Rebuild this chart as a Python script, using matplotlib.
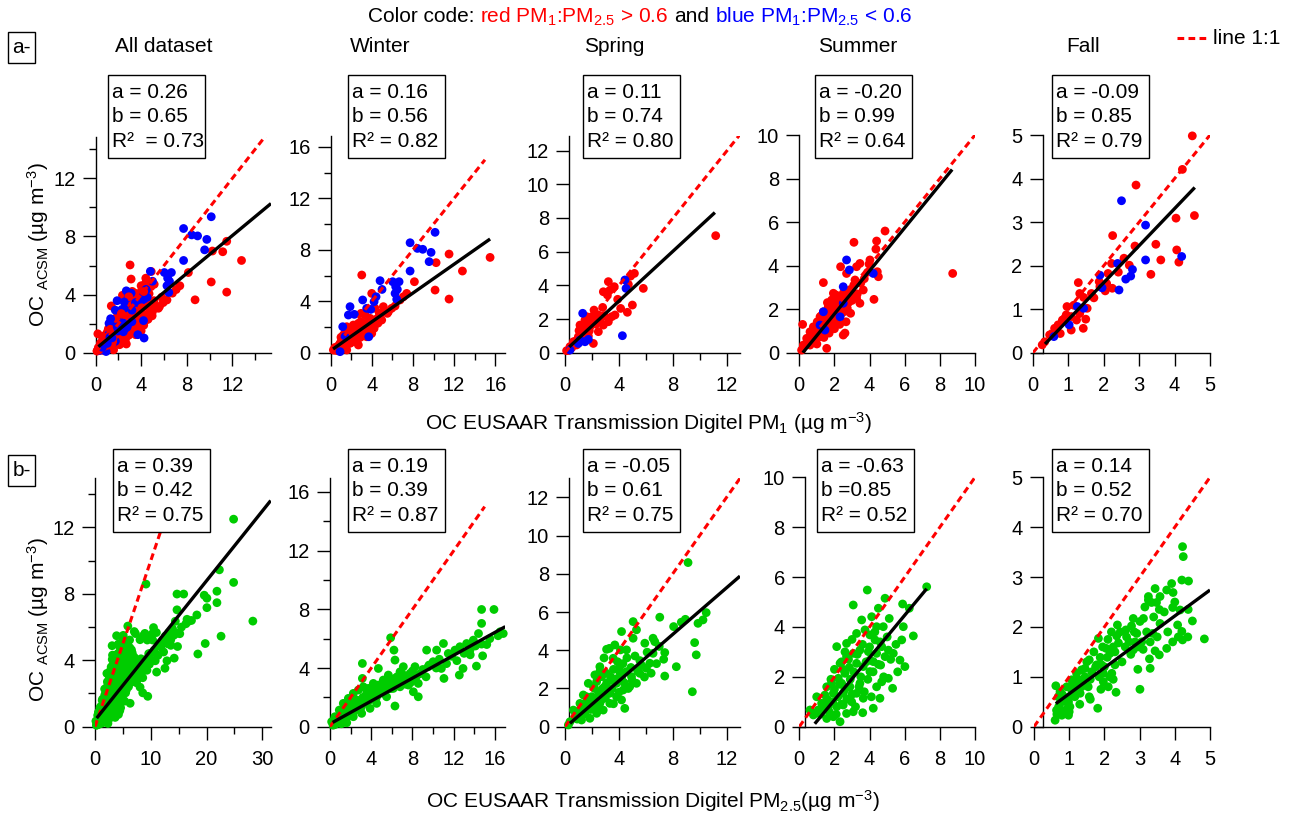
import numpy as np
import matplotlib
matplotlib.use('Agg')
import matplotlib.pyplot as plt
from matplotlib.patches import Rectangle
from matplotlib.lines import Line2D
from matplotlib.ticker import MultipleLocator

plt.rcParams['font.family'] = ['Liberation Sans', 'DejaVu Sans']
plt.rcParams['mathtext.fontset'] = 'custom'
plt.rcParams['mathtext.rm'] = 'Liberation Sans'
plt.rcParams['mathtext.it'] = 'Liberation Sans:italic'
plt.rcParams['mathtext.bf'] = 'Liberation Sans:bold'

# ---------------- DATA ----------------
titles = ['All dataset', 'Winter', 'Spring', 'Summer', 'Fall']

# row a: OC ACSM vs OC PM1 (red: PM1:PM2.5 > 0.6, blue: < 0.6)
winter_a_red = [(15.5,7.41),(12.81,6.35),(11.51,7.67),(10.25,7.0),(10.15,4.87),(11.51,4.17),(8.14,5.52),(7.39,4.61),
    (3.02,6.04),(3.99,4.61),(4.31,3.45),(5.12,3.58),(6.26,3.63),(5.93,3.45),(5.51,3.06),(4.73,3.06),(3.83,2.67),
    (3.34,2.28),(2.69,2.28),(2.2,2.15),(1.56,2.02),(1.23,1.37),(1.88,0.73),(2.69,0.6),(3.99,1.5),(3.5,1.24),
    (4.22,1.89),(3.18,1.63),(2.53,1.24),(0.58,0.34),(0.26,0.21),(0.42,0.41),(0.91,0.73),(1.56,0.6),(2.2,0.98),
    (2.85,1.37),(4.8,2.93),(5.28,3.19),(2.95,3.06),(3.34,2.93),(2.46,1.63),(1.95,1.5),(1.07,0.98),(0.81,0.6),
    (1.56,0.21),(0.65,0.16),(4.47,2.28),(4.96,2.54),(5.61,3.19),(6.74,4.1),(7.07,4.35),
    (0.4,0.2),(0.7,0.3),(0.8,0.45),(1.0,0.5),(1.2,0.7),(1.3,0.45),(1.4,0.85),(1.6,1.0),(1.7,0.75),(1.8,1.2),
    (2.0,0.8),(2.1,1.3),(2.3,1.1),(2.4,1.4),(2.6,1.0),(2.7,1.55),(2.9,1.2),(3.0,1.8),(3.2,1.4),(3.3,2.0),
    (3.5,1.7),(3.6,2.2),(3.8,1.9),(4.0,2.4),(4.2,2.1),(4.4,2.6),(4.6,2.3),(1.0,1.2),(1.4,1.6),(2.2,1.9),
    (2.5,2.0),(2.9,2.4)]
winter_a_blue = [(10.15,9.36),(7.72,8.55),(8.43,8.11),(8.95,8.04),(9.76,7.8),(9.57,7.08),(7.72,6.35),(4.8,5.6),
    (6.03,5.52),(6.32,5.13),(6.48,4.92),(6.65,5.52),(6.26,4.61),(6.42,4.15),(4.99,4.92),(4.41,4.35),(4.22,3.97),
    (3.11,4.1),(1.88,3.58),(2.3,2.98),(1.72,2.93),(1.17,2.02),(3.5,3.45),(3.89,3.37),(3.7,1.24),(0.91,0.08),(1.39,1.24)]
spring_a_red = [(11.16,6.95),(5.8,3.82),(5.14,4.71),(4.86,4.55),(4.69,4.06),(4.99,2.83),(4.62,2.4),(4.12,2.63),
    (3.9,3.17),(3.65,3.92),(3.21,4.22),(2.84,3.62),(3.14,3.43),(3.33,3.72),(2.79,2.69),(2.47,2.24),(3.46,2.14),
    (3.7,2.24),(2.22,1.94),(1.85,1.74),(2.15,2.53),(1.48,1.94),(1.11,1.64),(1.73,1.45),(1.36,1.25),(0.99,0.95),
    (0.62,0.65),(0.37,0.36),(0.12,0.12),(2.1,0.55),(1.73,0.99),(2.47,1.25),(2.84,1.64),(3.21,1.84),(0.86,0.46),
    (1.23,0.71),(1.6,2.14),(1.98,2.14),(1.04,1.31),
    (0.5,0.3),(0.7,0.5),(0.8,0.7),(1.0,0.6),(1.2,0.9),(1.3,1.1),(1.5,1.2),(1.6,1.5),(1.8,1.3),(1.9,1.6),
    (2.0,1.85),(2.3,1.7),(2.6,2.0),(2.9,2.2),(0.3,0.15)]
spring_a_blue = [(4.44,4.32),(4.52,3.82),(4.25,1.01),(1.31,2.34),(1.11,0.75),(1.48,0.65),(1.73,0.79),(0.99,0.55),(0.37,0.16)]
summer_a_red = [(8.73,3.64),(4.88,5.59),(3.11,5.07),(4.4,5.13),(4.36,4.76),(4.02,4.26),(3.97,4.07),(4.44,3.72),
    (4.5,3.49),(4.25,2.45),(3.45,4.1),(3.26,3.95),(2.69,3.64),(3.17,3.34),(2.35,3.95),(1.37,3.22),(3.64,2.88),
    (3.07,2.73),(2.79,2.5),(2.5,2.73),(2.28,2.42),(2.13,2.11),(1.94,2.73),(1.84,2.42),(1.65,2.11),(1.37,1.88),
    (1.18,1.65),(1.02,1.42),(0.8,1.19),(0.61,0.96),(0.42,0.66),(0.23,0.35),(0.13,0.12),(0.19,1.3),(1.56,0.2),
    (2.5,0.81),(2.66,1.42),(2.41,1.81),(2.73,2.04),(2.03,1.35),(1.75,1.19),(1.46,0.96),(1.18,0.74),(0.89,0.51),
    (0.61,0.35),(1.56,1.5),(2.22,1.65),(2.92,1.81),(3.26,2.5),(3.45,2.27),(0.99,1.04),(1.27,1.19),(1.84,1.81),
    (2.09,2.65),(2.5,2.04),
    (0.5,0.5),(0.7,0.6),(0.75,0.85),(0.9,0.75),(0.95,1.1),(1.05,0.85),(1.1,1.25),(1.2,1.0),(1.3,1.45),(1.35,1.1),
    (1.45,1.6),(1.5,1.25),(1.6,1.85),(1.65,1.35),(1.7,1.6),(1.8,2.0),(1.85,1.45),(1.9,2.2),(2.0,1.7),(2.05,2.35),
    (2.1,1.9),(2.2,2.1),(2.3,1.85),(2.35,2.6),(2.45,2.3),(2.55,2.5),(2.6,1.9),(2.7,2.6),(2.8,2.3),(2.9,2.9),
    (3.0,2.4),(3.1,3.1),(3.3,2.7),(3.5,3.2),(3.7,3.4),(3.9,3.7),(1.4,0.7),(1.7,0.9),(2.0,1.1),(2.3,1.3),
    (2.6,0.9),(1.0,0.4),(0.8,1.05),(1.25,1.7),(1.6,2.3)]
summer_a_blue = [(2.69,4.26),(2.85,3.8),(4.21,3.64),(2.5,3.03),(2.32,1.65),(1.37,1.88),(1.18,1.27),(1.46,1.04),(2.5,2.27)]
fall_a_red = [(4.5,4.98),(4.22,4.21),(2.91,3.85),(4.56,3.15),(4.04,3.09),(4.06,2.36),(4.12,2.08),(3.47,2.49),
    (3.61,2.13),(3.33,1.8),(2.88,2.45),(2.25,2.69),(2.57,2.17),(2.72,2.01),(2.22,2.05),(2.12,1.82),(2.41,1.85),
    (2.08,1.59),(2.24,1.48),(2.04,1.42),(1.87,1.63),(1.72,1.26),(1.53,1.02),(1.28,1.61),(1.32,1.36),(1.43,1.27),
    (1.49,0.77),(1.42,0.56),(1.08,0.52),(1.23,0.75),(1.15,1.09),(0.96,1.06),(0.94,0.87),(0.83,0.75),(0.77,0.44),
    (0.71,0.64),(0.61,0.56),(0.47,0.41),(0.33,0.25),(0.26,0.18),(1.08,0.83),(1.32,0.9),(1.65,1.36),(1.89,1.52)]
fall_a_blue = [(2.5,3.49),(3.18,2.93),(3.18,2.13),(4.2,2.21),(2.39,2.05),(2.81,1.91),(2.76,1.76),(2.62,1.69),
    (1.89,1.78),(1.95,1.49),(2.43,1.44),(1.43,1.02),(1.25,1.06),(1.02,0.64),(0.59,0.37)]

# row b: OC ACSM vs OC PM2.5 (green)
winter_b = [(15.9,7.99),(14.7,7.99),(14.7,7.04),(14.4,6.35),(16.8,6.35),(16.5,6.47),(14.7,5.63),(14.8,4.83),
    (14.2,4.13),(12.54,3.52),(12.9,3.97),(11.0,5.67),(10.8,3.97),(11.05,3.29),(10.34,5.22),(11.47,4.99),
    (12.12,5.22),(12.6,5.45),(13.25,5.67),(13.9,5.9),(13.57,5.22),(9.37,5.22),(9.31,3.4),(8.56,2.95),(8.56,2.04),
    (9.53,4.09),(10.0,4.43),(8.24,4.09),(7.76,3.63),(7.43,3.18),(7.11,4.09),(6.79,3.74),(6.3,3.29),(6.2,5.22),
    (5.88,6.06),(6.3,4.54),(5.66,3.52),(5.17,3.18),(4.69,3.97),(4.69,2.84),(4.2,2.95),(3.72,2.61),(3.14,4.31),
    (3.14,3.29),(3.23,2.72),(2.75,2.5),(2.26,2.27),(1.78,1.93),(1.29,1.59),(0.9,1.13),(0.48,0.68),(0.16,0.34),
    (1.94,0.91),(2.75,1.25),(3.56,1.59),(4.36,1.93),(5.17,2.27),(6.14,2.61),(6.79,2.72),(7.6,2.84),(6.3,1.41),
    (8.08,2.38),(1.62,0.27),(0.97,0.57),(2.26,0.68),(3.07,0.91),(3.88,1.25),(4.52,1.59),(5.49,2.04),(4.85,2.5),
    (5.82,2.95),(6.79,3.18),(7.11,3.4),(1.94,1.59),(2.59,1.82),(3.56,2.27),(4.04,2.04),
    (0.6,0.3),(0.8,0.5),(1.0,0.8),(1.2,0.6),(1.4,0.9),(1.5,1.2),(1.7,0.7),(1.8,1.1),(2.0,1.3),(2.1,1.0),
    (2.3,1.5),(2.4,1.1),(2.5,1.8),(2.7,1.4),(2.9,1.7),(3.0,1.3),(3.2,2.0),(3.3,1.6),(3.5,1.9),(3.6,2.4),
    (3.8,1.8),(4.0,2.2),(4.1,2.6),(4.3,2.3),(4.5,2.0),(4.6,2.8),(4.8,2.3),(5.0,2.6),(5.2,3.0),(5.3,2.4),
    (5.5,2.8),(5.7,3.2),(5.9,2.6),(6.0,3.0),(6.3,2.9),(6.5,3.4),(6.8,3.0),(7.0,3.6),(7.3,2.9),(7.5,3.4),
    (7.8,3.0),(8.0,3.8),(8.3,3.3),(8.7,3.6),(9.0,3.9),(9.6,4.2),(10.3,4.0),(10.6,4.6),(11.3,4.3),(11.8,4.8),
    (12.3,4.5),(13.0,5.0),(13.6,4.9),(14.1,5.5),(15.2,5.6),(15.5,6.0),(16.3,6.2),(0.3,0.1),(0.5,0.15),
    (1.1,0.2),(1.3,0.35),
    (28.3,6.36),(24.85,12.5),(24.85,8.69),(22.3,9.45),(21.86,8.16),(21.86,7.47),(19.58,7.92),(20.06,7.74),
    (20.06,7.17),(18.26,6.73),(22.6,5.45),(19.76,5.01),(18.44,4.38),(17.3,6.4)]
spring_b = [(9.14,8.59),(7.04,5.73),(8.94,5.62),(8.64,5.47),(8.07,5.24),(9.88,5.41),(10.25,5.59),(10.49,5.97),
    (9.63,4.4),(9.75,3.76),(9.46,1.83),(8.27,3.14),(7.41,2.65),(7.41,3.88),(7.33,3.53),(6.54,3.84),(6.54,4.63),
    (6.67,4.45),(5.93,4.37),(6.05,3.06),(5.56,3.46),(5.06,5.5),(5.31,5.07),(5.06,4.63),(4.2,4.98),(4.57,4.02),
    (4.12,4.02),(3.7,4.28),(3.09,4.05),(3.58,3.58),(4.07,3.14),(4.57,2.88),(4.94,2.62),(5.31,2.27),(4.81,2.1),
    (4.32,1.92),(4.44,0.96),(3.83,1.57),(3.33,1.75),(2.96,2.1),(2.72,2.62),(2.59,3.14),(3.09,2.79),(3.46,2.45),
    (2.35,2.36),(2.1,2.1),(1.98,1.57),(1.6,1.57),(1.36,1.66),(1.11,1.22),(1.6,1.05),(2.35,0.7),(2.84,0.87),
    (1.85,0.44),(1.23,0.35),(0.74,0.52),(0.62,0.87),(0.37,0.26),(0.25,0.09),(0.99,0.79),(1.48,0.7),(3.33,1.22),
    (3.83,2.27),(4.2,2.53),(5.56,2.79),(6.3,3.32),(2.22,2.71),(1.73,2.27),(1.48,1.22),(2.59,1.22),
    (1.3,0.6),(1.5,0.9),(1.7,1.3),(1.9,0.9),(2.0,1.2),(2.2,1.5),(2.4,1.0),(2.5,1.8),(2.7,1.4),(2.8,2.0),
    (3.0,1.5),(3.1,2.3),(3.2,1.9),(3.4,2.6),(3.5,2.0),(3.6,3.0),(3.8,2.5),(3.9,3.4),(4.0,1.8),(4.1,2.8),
    (4.3,3.3),(4.4,2.3),(4.6,3.6),(4.7,2.0),(4.9,3.1),(5.0,2.4),(5.2,3.7),(5.4,2.9),(5.7,3.2),(5.9,2.6),
    (6.1,3.9),(6.4,2.8),(6.8,3.3),(7.0,4.2),(2.9,3.6),(3.3,4.1),(2.6,2.9),(1.2,1.0),(0.9,0.4),(3.6,1.2),
    (4.2,1.4),(2.2,2.0)]
summer_b = [(7.25,5.61),(3.87,5.48),(4.88,5.15),(3.07,4.88),(4.5,4.75),(5.88,4.92),(6.26,4.75),(5.12,4.34),
    (3.55,4.28),(6.49,3.64),(5.92,4.01),(5.83,3.48),(5.73,2.67),(6.01,2.41),(5.31,1.54),(5.07,1.94),(4.69,1.8),
    (4.4,1.6),(4.59,1.14),(4.21,0.74),(3.61,0.56),(2.32,0.2),(2.13,3.21),(2.69,3.34),(3.26,3.74),(3.74,3.88),
    (4.02,3.68),(4.31,3.48),(4.69,3.21),(5.07,3.07),(5.35,2.94),(4.88,2.81),(4.4,2.94),(3.93,3.01),(3.45,3.07),
    (3.07,2.94),(2.69,2.81),(2.32,2.54),(3.26,2.54),(3.64,2.41),(4.02,2.21),(4.21,2.61),(2.6,2.14),(2.22,1.94),
    (1.84,1.74),(1.56,1.6),(1.94,1.34),(2.5,1.34),(2.88,1.6),(3.45,1.74),(3.26,1.34),(3.64,1.14),(2.98,1.0),
    (2.5,0.87),(2.13,0.8),(1.65,0.8),(1.27,0.94),(1.08,0.67),(0.8,0.47),(0.61,0.67),(0.99,1.2),(1.46,1.27),
    (2.69,0.53),(3.07,0.6),(1.94,0.4),(1.56,0.33),(2.41,1.74),(2.85,2.38),(4.4,4.01),(4.12,4.41),(4.78,4.01),
    (4.02,2.67),(4.63,2.47),
    (1.2,0.5),(1.4,0.8),(1.6,1.1),(1.7,0.6),(1.9,1.0),(2.0,1.5),(2.1,0.5),(2.2,1.2),(2.3,1.7),(2.4,0.9),
    (2.5,2.3),(2.6,1.5),(2.7,1.1),(2.8,2.7),(2.9,1.9),(3.0,1.3),(3.1,2.2),(3.2,0.8),(3.3,2.9),(3.4,1.6),
    (3.5,2.0),(3.6,3.3),(3.7,1.4),(3.8,2.6),(3.9,1.9),(4.0,3.2),(4.1,1.2),(4.2,2.2),(4.3,3.8),(4.5,2.5),
    (4.6,3.4),(4.8,2.0),(5.0,3.6),(5.2,2.7),(5.5,3.3),(5.6,2.2),(2.0,2.3),(1.8,1.9),(2.6,3.0),(3.0,3.5),
    (2.4,2.6)]
fall_b = [(4.22,3.61),(4.24,3.41),(4.84,1.76),(4.5,2.12),(4.2,2.94),(4.39,2.92),(4.38,2.35),(4.37,1.8),(4.22,1.74),
    (4.2,1.91),(4.08,2.04),(3.94,1.7),(3.77,1.57),(3.56,1.44),(3.44,1.52),(3.3,1.7),(3.28,1.36),(3.3,1.17),
    (3.01,0.75),(2.95,1.15),(3.91,2.87),(3.95,2.69),(3.77,2.74),(3.58,2.61),(3.56,2.35),(3.44,2.77),(3.48,2.49),
    (3.34,2.49),(3.25,2.54),(3.25,2.61),(3.94,2.39),(3.58,2.07),(3.37,1.87),(3.11,2.17),(3.01,2.11),(2.82,2.17),
    (2.77,2.02),(2.92,1.87),(3.06,1.7),(2.82,1.54),(2.87,1.7),(2.59,1.6),(2.63,1.8),(2.61,1.94),(2.37,2.04),
    (2.35,1.82),(2.4,1.68),(2.25,1.6),(2.16,1.47),(2.08,1.39),(2.3,1.24),(2.21,1.07),(2.25,0.95),(2.11,0.8),
    (2.33,0.69),(1.97,0.9),(1.97,1.07),(1.92,1.24),(1.88,1.39),(1.83,1.77),(2.05,1.57),(1.78,1.24),(1.64,1.1),
    (1.57,1.34),(1.45,1.17),(1.45,1.0),(1.54,0.8),(1.57,0.6),(1.81,0.37),(1.35,0.8),(1.31,0.67),(1.21,1.07),
    (1.16,0.87),(1.07,0.74),(1.16,0.6),(0.98,0.5),(1.02,0.4),(0.88,0.33),(0.83,0.57),(0.74,0.47),(0.64,0.33),
    (0.79,0.23),(0.98,0.23),(0.6,0.13),(0.62,0.82),(0.69,0.6),(0.74,0.7),(0.93,0.8),(1.07,0.94),(1.35,1.14),(4.15,2.34),
    (0.7,0.4),(0.8,0.65),(0.9,0.5),(1.0,0.6),(1.1,0.85),(1.2,0.75),(1.25,0.95),(1.4,0.9),(1.5,1.3),(1.6,0.95),
    (1.7,1.5),(1.75,1.2),(1.85,1.0),(1.95,1.6),(2.0,1.2),(2.1,1.75),(2.15,1.0),(2.2,1.9),(2.3,1.5),(2.45,1.9),
    (2.5,1.3),(2.7,1.7),(2.75,1.45),(2.85,1.9),(2.95,1.6),(3.1,1.55),(3.15,2.4),(3.2,1.9),(3.4,2.2),(3.5,1.8),
    (3.7,2.3),(3.8,1.9),(4.0,2.5),(4.1,1.8),(0.65,0.25),(0.75,0.3),(1.0,0.3),(1.3,0.45),(1.6,0.55),(1.9,0.75)]

# fit parameters (y = a + b x) and the displayed statistics
fit_a_row_a = [0.26, 0.16, 0.11, -0.20, -0.09]
fit_b_row_a = [0.65, 0.56, 0.74, 0.99, 0.85]
fit_range_row_a = [(0.24, 15.4), (0.23, 15.5), (0.32, 11.1), (0.2, 8.7), (0.34, 4.57)]
stats_row_a = [['a = 0.26', 'b = 0.65', 'R²  = 0.73'], ['a = 0.16', 'b = 0.56', 'R² = 0.82'],
               ['a = 0.11', 'b = 0.74', 'R² = 0.80'], ['a = -0.20', 'b = 0.99', 'R² = 0.64'],
               ['a = -0.09', 'b = 0.85', 'R² = 0.79']]
fit_a_row_b = [0.39, 0.19, -0.05, -0.63, 0.14]
fit_b_row_b = [0.42, 0.39, 0.61, 0.85, 0.52]
fit_range_row_b = [(0.3, 31.5), (0.26, 17.0), (0.37, 13.0), (0.88, 7.25), (0.62, 5.0)]
stats_row_b = [['a = 0.39', 'b = 0.42', 'R² = 0.75'], ['a = 0.19', 'b = 0.39', 'R² = 0.87'],
               ['a = -0.05', 'b = 0.61', 'R² = 0.75'], ['a = -0.63', 'b =0.85', 'R² = 0.52'],
               ['a = 0.14', 'b = 0.52', 'R² = 0.70']]
one_to_one_end = [15, 15, 13, 10, 5]

# ---------------- LAYOUT ----------------
W, H = 1303, 821
fig = plt.figure(figsize=(W / 100, H / 100), dpi=100)

RED, BLUE, GREEN = '#ff0000', '#0000ff', '#00cc00'
FS = 14.5

row_a_pix = [(95.7, 271, 352.7, 137), (330.7, 505, 352.7, 136), (565, 740, 352.7, 136),
             (799.3, 975, 352.7, 135), (1033, 1210, 352.7, 135)]
row_a_lim = [(15.4, 14.85), (16.95, 16.85), (12.96, 12.87), (10, 10), (5, 5)]
row_b_pix = [(95, 270.7, 726.7, 478), (330, 505, 726.7, 478.3), (565, 740, 726.7, 478.3),
             (799.3, 975, 726.7, 477.3), (1034, 1210, 726.7, 477.3)]
row_b_lim = [(31.5, 14.98), (16.97, 16.93), (13, 13), (10, 10), (5, 5)]
yspine_a = [0, 0, 0.3, 0, 0.27]
yspine_b = [0, 0, 0.32, 0.32, 0.25]
xt_a = [(4, 2), (4, 2), (4, 2), (2, None), (1, None)]
yt_a = [(4, 2), (4, 2), (2, None), (2, None), (1, None)]
xt_b = [(10, 5), (4, 2), (4, 2), (2, None), (1, None)]
yt_b = [(4, 2), (4, 2), (2, None), (2, None), (1, None)]
box_a = [(107.7, 75), (348.3, 75), (582.7, 75), (815, 75), (1051.7, 75)]
box_b = [(113.3, 449.3), (348.3, 449.3), (583.3, 449.3), (817.3, 449.3), (1051.7, 449.3)]
title_x = [115, 350, 584, 818, 1066]


def add_ax(l, r, b, t):
    return fig.add_axes([l / W, 1 - b / H, (r - l) / W, (b - t) / H])


def style_ax(ax, xlim, ylim, xt, yt, yspine):
    ax.set_xlim(0, xlim)
    ax.set_ylim(0, ylim)
    for s in ['top', 'right']:
        ax.spines[s].set_visible(False)
    for s in ['left', 'bottom']:
        ax.spines[s].set_linewidth(1.0)
    ax.spines['left'].set_position(('data', yspine))
    ax.xaxis.set_major_locator(MultipleLocator(xt[0]))
    ax.yaxis.set_major_locator(MultipleLocator(yt[0]))
    if xt[1]:
        ax.xaxis.set_minor_locator(MultipleLocator(xt[1]))
    if yt[1]:
        ax.yaxis.set_minor_locator(MultipleLocator(yt[1]))
    ax.tick_params(which='major', length=9.5, width=1.0, labelsize=FS)
    ax.tick_params(axis='x', which='major', pad=7)
    ax.tick_params(axis='y', which='major', pad=5)
    ax.tick_params(which='minor', length=5, width=1.0)
    ax.patch.set_alpha(0)


def scatter(ax, pts, color, xlim, ylim):
    p = np.array(pts)
    m = (p[:, 0] <= xlim) & (p[:, 1] <= ylim)
    ax.scatter(p[m, 0], p[m, 1], s=40, c=color, edgecolors='none', zorder=3, clip_on=False)


def lines(ax, a, b, rng, end):
    ax.plot([0, end], [0, end], color=RED, lw=2.2, ls=(0, (2.2, 1.4)), zorder=4)
    xs = np.array(rng)
    ax.plot(xs, a + b * xs, color='black', lw=2.4, zorder=5, solid_capstyle='butt')


def stat_box(x, y, labels):
    fig.add_artist(Rectangle((x / W, 1 - (y + 83) / H), 97 / W, 83 / H, transform=fig.transFigure,
                             facecolor='white', edgecolor='black', lw=1.0, zorder=1))
    for i, s in enumerate(labels):
        fig.text((x + 4) / W, 1 - (y + 17 + 24.5 * i) / H, s, fontsize=15, va='center', ha='left', zorder=2)


row_a_sets = [
    [(winter_a_red, RED), (spring_a_red, RED), (summer_a_red, RED), (winter_a_blue, BLUE),
     (spring_a_blue, BLUE), (summer_a_blue, BLUE), (fall_a_red, RED), (fall_a_blue, BLUE)],
    [(winter_a_red, RED), (winter_a_blue, BLUE)],
    [(spring_a_red, RED), (spring_a_blue, BLUE)],
    [(summer_a_red, RED), (summer_a_blue, BLUE)],
    [(fall_a_red, RED), (fall_a_blue, BLUE)],
]
row_b_sets = [
    [(winter_b, GREEN), (spring_b, GREEN), (summer_b, GREEN), (fall_b, GREEN)],
    [(winter_b, GREEN)], [(spring_b, GREEN)], [(summer_b, GREEN)], [(fall_b, GREEN)],
]

for i in range(5):
    ax = add_ax(*row_a_pix[i])
    xl, yl = row_a_lim[i]
    style_ax(ax, xl, yl, xt_a[i], yt_a[i], yspine_a[i])
    for pts, c in row_a_sets[i]:
        scatter(ax, pts, c, xl, yl)
    lines(ax, fit_a_row_a[i], fit_b_row_a[i], fit_range_row_a[i], one_to_one_end[i])
    stat_box(*box_a[i], stats_row_a[i])
    fig.text(title_x[i] / W, 1 - 47 / H, titles[i], fontsize=15, va='center', ha='left')

    ax = add_ax(*row_b_pix[i])
    xl, yl = row_b_lim[i]
    style_ax(ax, xl, yl, xt_b[i], yt_b[i], yspine_b[i])
    for pts, c in row_b_sets[i]:
        scatter(ax, pts, c, xl, yl)
    lines(ax, fit_a_row_b[i], fit_b_row_b[i], fit_range_row_b[i], one_to_one_end[i])
    stat_box(*box_b[i], stats_row_b[i])

# axis labels
ylab = r'OC $_{\mathregular{ACSM}}$ (µg m$^{\mathregular{-3}}$)'
fig.text(38 / W, 1 - 245 / H, ylab, rotation=90, fontsize=15, ha='center', va='center')
fig.text(38 / W, 1 - 620 / H, ylab, rotation=90, fontsize=15, ha='center', va='center')
fig.text(649 / W, 1 - 423 / H, r'OC EUSAAR Transmission Digitel PM$_{\mathregular{1}}$ (µg m$^{\mathregular{-3}}$)',
         fontsize=15, ha='center', va='center')
fig.text(653 / W, 1 - 801 / H, r'OC EUSAAR Transmission Digitel PM$_{\mathregular{2.5}}$(µg m$^{\mathregular{-3}}$)',
         fontsize=15, ha='center', va='center')

# panel tags
for lbl, y0 in [('a-', 32), ('b-', 455)]:
    fig.add_artist(Rectangle((8 / W, 1 - (y0 + 31) / H), 27 / W, 31 / H, transform=fig.transFigure,
                             facecolor='white', edgecolor='black', lw=1.0))
    fig.text(21.5 / W, 1 - (y0 + 15.5) / H, lbl, fontsize=15, ha='center', va='center')

# legend for 1:1 line
fig.add_artist(Line2D([1177 / W, 1206 / W], [1 - 38 / H, 1 - 38 / H], transform=fig.transFigure,
                      color=RED, lw=2.2, ls=(0, (2.2, 1.4))))
fig.text(1213 / W, 1 - 38 / H, 'line 1:1', fontsize=15, ha='left', va='center')

# colored header
parts = [('Color code:', 'black'), (r'red PM$_{\mathregular{1}}$:PM$_{\mathregular{2.5}}$ > 0.6', RED),
         ('and', 'black'), (r'blue PM$_{\mathregular{1}}$:PM$_{\mathregular{2.5}}$ < 0.6', BLUE)]
renderer = fig.canvas.get_renderer()
gap = 15 * 1.389 * 0.278
txts, widths = [], []
for s, c in parts:
    t = fig.text(0, 1 - 17 / H, s, color=c, fontsize=15, ha='left', va='center')
    txts.append(t)
    widths.append(t.get_window_extent(renderer).width)
total = sum(widths) + gap * (len(parts) - 1)
x = 640 - total / 2
for t, w in zip(txts, widths):
    t.set_x(x / W)
    x += w + gap

fig.savefig('out.png', dpi=100)
